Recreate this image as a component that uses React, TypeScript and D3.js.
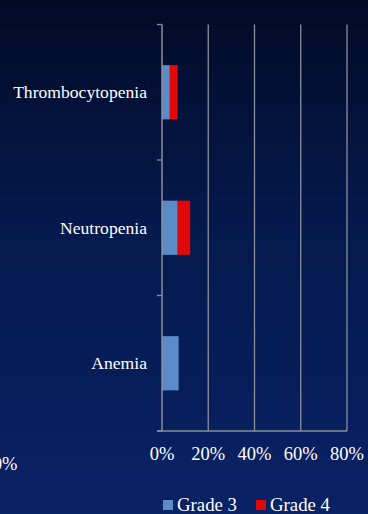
import React from "react";
import * as d3 from "d3";

const categories = ["Thrombocytopenia", "Neutropenia", "Anemia"];
const grade3 = [3.4, 6.8, 7.2];
const grade4 = [3.4, 5.4, 0];
const xTicks = [0, 20, 40, 60, 80];
const seriesNames = ["Grade 3", "Grade 4"];
const seriesColors = ["#5b8bc8", "#e00808"];

export default function App() {
  const W = 368, H = 514;
  const left = 162, right = 347, top = 24.5, bottom = 431;
  const x = d3.scaleLinear().domain([0, 80]).range([left, right]);
  const y = d3.scaleBand().domain(categories).range([top, bottom]).paddingInner(0.6).paddingOuter(0.3);
  const yOuter = d3.scaleBand().domain(categories).range([top, bottom]);
  const font = "'Liberation Serif', 'Times New Roman', serif";
  return (
    <svg width={W} height={H} style={{ position: "fixed", left: 0, top: 0 }}>
      <defs>
        <linearGradient id="bg" x1="0" y1="0" x2="0" y2="1">
          <stop offset="0" stopColor="#020b26" />
          <stop offset="0.4" stopColor="#04184a" />
          <stop offset="1" stopColor="#0a2266" />
        </linearGradient>
      </defs>
      <rect x={0} y={0} width={W} height={H} fill="url(#bg)" />
      {xTicks.slice(1).map((t) => (
        <line key={t} x1={x(t)} x2={x(t)} y1={top} y2={bottom} stroke="#8a8f9c" strokeWidth={1.3} />
      ))}
      {categories.map((c, i) => {
        const y0 = y(c)!;
        const h = y.bandwidth();
        return (
          <g key={c}>
            <rect x={x(0)} y={y0} width={x(grade3[i]) - x(0)} height={h} fill={seriesColors[0]} />
            {grade4[i] > 0 && (
              <rect x={x(grade3[i])} y={y0} width={x(grade3[i] + grade4[i]) - x(grade3[i])} height={h} fill={seriesColors[1]} />
            )}
            <text x={147} y={yOuter(c)! + yOuter.bandwidth() / 2} dy="0.35em" textAnchor="end" fill="#ffffff" fontFamily={font} fontSize={17.6}>
              {c}
            </text>
          </g>
        );
      })}
      {[...categories.map((c) => yOuter(c)!), bottom].map((v, i) => (
        <line key={i} x1={left - 5} x2={left} y1={v} y2={v} stroke="#8a8f9c" strokeWidth={1.3} />
      ))}
      <line x1={left} x2={left} y1={top} y2={bottom} stroke="#8a8f9c" strokeWidth={1.5} />
      <line x1={left - 5} x2={right} y1={bottom} y2={bottom} stroke="#8a8f9c" strokeWidth={1.5} />
      {xTicks.map((t) => (
        <text key={t} x={x(t)} y={460} textAnchor="middle" fill="#ffffff" fontFamily={font} fontSize={18.5}>
          {t}%
        </text>
      ))}
      <text x={17.5} y={470} textAnchor="end" fill="#ffffff" fontFamily={font} fontSize={18.5}>100%</text>
      {seriesNames.map((s, i) => (
        <g key={s} transform={`translate(${163 + i * 93},0)`}>
          <rect x={0} y={500} width={10} height={10} fill={seriesColors[i]} />
          <text x={14} y={511} fill="#ffffff" fontFamily={font} fontSize={18.8}>{s}</text>
        </g>
      ))}
    </svg>
  );
}
